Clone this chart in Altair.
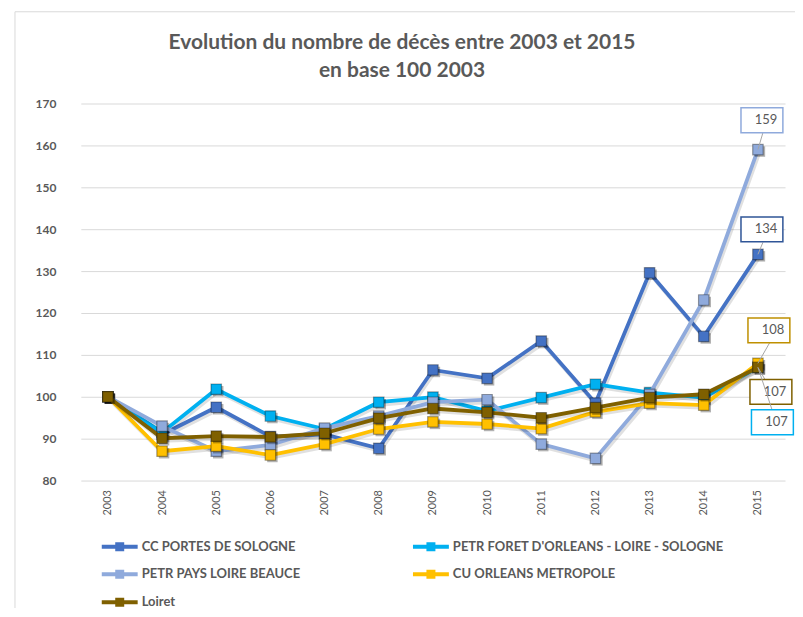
import altair as alt
import pandas as pd

years = [str(y) for y in range(2003, 2016)]
series_names = [
    "CC PORTES DE SOLOGNE",
    "PETR FORET D'ORLEANS - LOIRE - SOLOGNE",
    "PETR PAYS LOIRE BEAUCE",
    "CU ORLEANS METROPOLE",
    "Loiret",
]
cc_portes = [100, 91, 97.5, 90.5, 91, 87.7, 106.4, 104.4, 113.3, 98.5, 129.6, 114.4, 134]
petr_foret = [100, 91.5, 101.8, 95.4, 92.3, 98.7, 99.9, 96.6, 99.8, 103, 101, 99.8, 107]
petr_pays = [100, 93, 87, 88.5, 92.5, 95.4, 98.7, 99.3, 88.7, 85.3, 100.6, 123.1, 159]
cu_orleans = [100, 87, 88.2, 86.1, 88.7, 92.3, 94, 93.5, 92.4, 96.4, 98.5, 98, 108]
loiret = [100, 90.1, 90.6, 90.4, 91.3, 94.9, 97.2, 96.3, 95, 97.4, 99.8, 100.6, 107]
label_values = {"CC PORTES DE SOLOGNE": "134", "PETR FORET D'ORLEANS - LOIRE - SOLOGNE": "107",
                "PETR PAYS LOIRE BEAUCE": "159", "CU ORLEANS METROPOLE": "108", "Loiret": "107"}

colors = ["#4472C4", "#00B0F0", "#8FAADC", "#FFC000", "#7F6000"]
box_colors = ["#2F5597", "#00B0F0", "#8FAADC", "#BF9000", "#7F6000"]

rows = []
for name, vals in zip(series_names, [cc_portes, petr_foret, petr_pays, cu_orleans, loiret]):
    for i, (y, v) in enumerate(zip(years, vals)):
        rows.append({"serie": name, "annee": y, "valeur": v, "ordre": i,
                     "label": label_values[name] if y == "2015" else ""})
df = pd.DataFrame(rows)

FONT = "Lato"
GREY = "#595959"

x_enc = alt.X("annee:O", sort=years,
              scale=alt.Scale(type="point", padding=0.5),
              axis=alt.Axis(title=None, labelAngle=270, labelFontSize=11, labelColor=GREY,
                            labelPadding=9, ticks=False, domain=False, grid=False, labelFont=FONT))
y_enc = alt.Y("valeur:Q", scale=alt.Scale(domain=[80, 170], nice=False, zero=False),
              axis=alt.Axis(title=None, values=list(range(80, 171, 10)), labelFontSize=12,
                            labelFontWeight="bold", labelColor=GREY, labelPadding=25,
                            ticks=False, domain=False, gridColor="#D9D9D9", gridWidth=1,
                            labelFont=FONT))
color_scale = alt.Scale(domain=series_names, range=colors)

# symbol: 36px line with a small square, drawn on a 20px layout box
legend_path = "M-1.8,0H1.8 M-0.25,-0.25H0.25V0.25H-0.25Z"
legend = alt.Legend(title=None, orient="none", legendX=27, legendY=432, direction="horizontal",
                    columns=2, columnPadding=105, rowPadding=5,
                    symbolType=legend_path, symbolSize=400, symbolStrokeWidth=4,
                    labelFont=FONT, labelFontSize=13, labelFontWeight="bold",
                    labelColor=GREY, labelOffset=10, labelLimit=400)

base = alt.Chart(df)

series_layers = []
for name, col in zip(series_names, colors):
    src = base.transform_filter(alt.datum.serie == name)
    shadow_ln = src.mark_line(strokeWidth=4, color="#000000", opacity=0.12,
                              xOffset=1.5, yOffset=2.5).encode(x=x_enc, y=y_enc, order="ordre:Q")
    ln = src.mark_line(strokeWidth=3.8).encode(
        x=x_enc, y=y_enc,
        color=alt.Color("serie:N", scale=color_scale, legend=legend),
        order="ordre:Q",
    )
    shadow_pt = src.mark_point(shape="square", size=110, filled=True, fill="#000000", opacity=0.3,
                               xOffset=2, yOffset=2).encode(x=x_enc, y=y_enc)
    pt = src.mark_point(shape="square", size=110, filled=True, opacity=1, fill=col,
                        stroke="#000000", strokeOpacity=0.35, strokeWidth=1.2).encode(
        x=x_enc, y=y_enc)
    series_layers += [shadow_ln, ln, shadow_pt, pt]

# data label boxes: (series, box offset dx, dy, leader end dx, dy)
label_specs = [
    ("PETR PAYS LOIRE BEAUCE", 4, -29.5, 5, -17),
    ("CC PORTES DE SOLOGNE", 4, -25, 5, -12),
    ("CU ORLEANS METROPOLE", 11, -33, 12, -21),
    ("Loiret", 13, 24.5, 7, 12),
    ("PETR FORET D'ORLEANS - LOIRE - SOLOGNE", 14.5, 55, 14, 42),
]
box_path = "M-1,-0.595H1V0.595H-1Z"
label_layers = []
for name, bdx, bdy, ldx, ldy in label_specs:
    bc = box_colors[series_names.index(name)]
    src = base.transform_filter((alt.datum.serie == name) & (alt.datum.annee == "2015"))
    leader = src.mark_rule(color="#A6A6A6", strokeWidth=1, x2Offset=ldx, y2Offset=ldy).encode(
        x=x_enc, y=y_enc, x2="annee:O", y2="valeur:Q")
    box = src.mark_point(shape=box_path, size=1764, filled=True, fill="white", stroke=bc,
                         strokeWidth=1.5, opacity=1, xOffset=bdx, yOffset=bdy).encode(x=x_enc, y=y_enc)
    txt = src.mark_text(font=FONT, fontSize=13, color=GREY, xOffset=bdx + 4, yOffset=bdy,
                        baseline="middle", align="center").encode(x=x_enc, y=y_enc, text="label:N")
    label_layers += [leader, box, txt]

frame = alt.Chart(pd.DataFrame({"a": [0]})).mark_rect(fill=None, stroke="#D9D9D9", strokeWidth=1).encode(
    x=alt.value(-66), x2=alt.value(730), y=alt.value(-92), y2=alt.value(520))

chart = alt.layer(frame, *series_layers, *label_layers).properties(
    width=706, height=378,
    autosize=alt.AutoSizeParams(type="none"),
    padding={"left": 73, "top": 95, "right": 10, "bottom": 127},
    title=alt.Title(["Evolution du nombre de décès entre 2003 et 2015", "en base 100 2003"],
                    fontSize=21, font=FONT, fontWeight="bold", color=GREY, lineHeight=28,
                    anchor="middle", baseline="bottom", dx=-31, offset=0, dy=91),
).configure_view(stroke=None)

chart.save("out.html", embed_options={"renderer": "svg", "actions": False})
